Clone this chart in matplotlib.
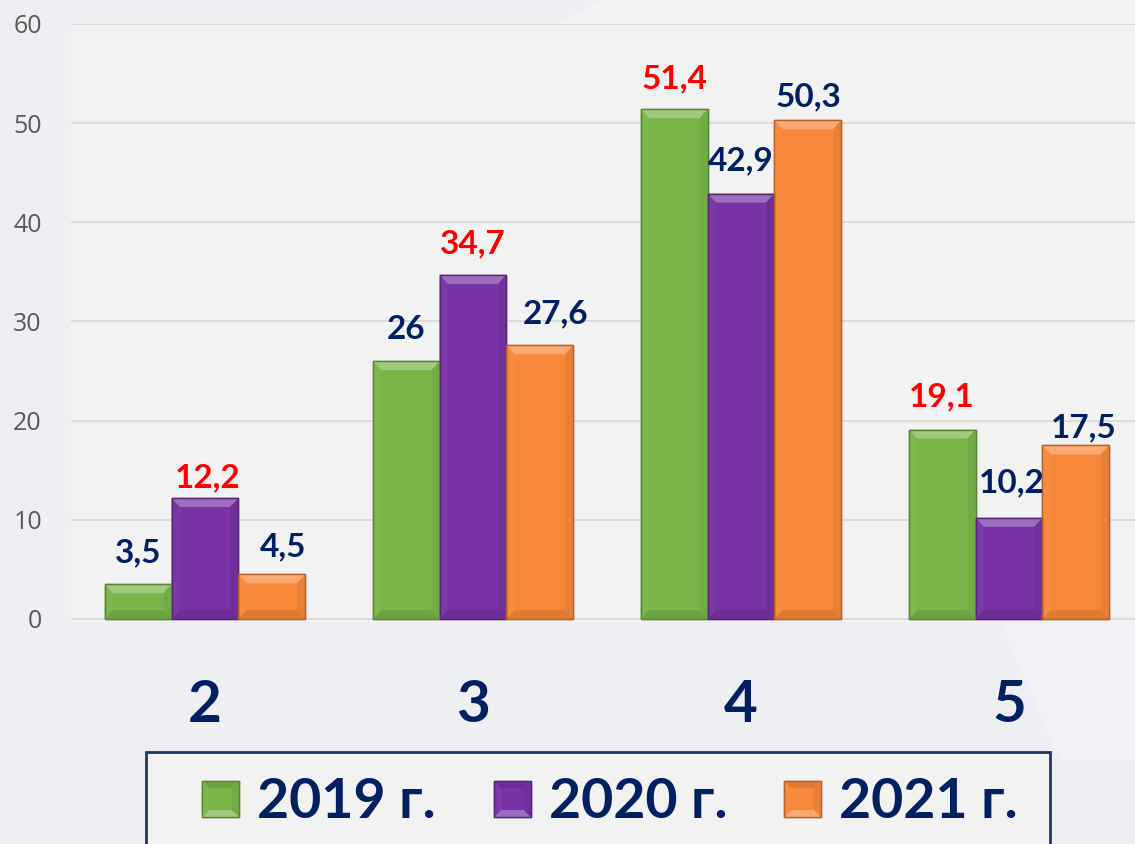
import matplotlib
matplotlib.use('Agg')
import matplotlib.pyplot as plt
import numpy as np
from matplotlib.patches import Polygon, Rectangle
from matplotlib.colors import to_rgb

# ---------------- data ----------------
categories = ['2', '3', '4', '5']
series_names = ['2019 г.', '2020 г.', '2021 г.']
values_2019 = [3.5, 26, 51.4, 19.1]
values_2020 = [12.2, 34.7, 42.9, 10.2]
values_2021 = [4.5, 27.6, 50.3, 17.5]
y_ticks = [0, 10, 20, 30, 40, 50, 60]

series_values = [values_2019, values_2020, values_2021]

# ---------------- style ----------------
W, H = 1135, 844
DPI = 100
series_colors = ['#79B64A', '#7733A5', '#F7883A']
navy = '#002060'
red = '#FF0000'
num_font = ['Lato', 'Roboto', 'DejaVu Sans']
# label nudges in pixels (dx, gap above bar)
label_nudge = {
    (0, 0): (0, 22), (0, 1): (3, 11), (0, 2): (11, 18),
    (1, 0): (0, 22), (1, 1): (0, 22), (1, 2): (16, 22),
    (2, 0): (0, 21), (2, 1): (0, 23), (2, 2): (1, 14),
    (3, 0): (0, 23), (3, 1): (3, 26), (3, 2): (8, 8),
}


def mix(c, f):
    r = np.array(to_rgb(c))
    if f >= 0:
        return tuple(r + (1 - r) * f)
    return tuple(r * (1 + f))


def bevel(ax, x0, y0, w, h, bx, by, color, z=3):
    by = min(by, h / 2.2)
    bx = min(bx, w / 2.2)
    x1, y1 = x0 + w, y0 + h
    edge = mix(color, -0.28)
    ax.add_patch(Rectangle((x0, y0), w, h, facecolor=color,
                           edgecolor=edge, lw=1.0, zorder=z))
    top = [(x0, y1), (x1, y1), (x1 - bx, y1 - by), (x0 + bx, y1 - by)]
    bot = [(x0, y0), (x1, y0), (x1 - bx, y0 + by), (x0 + bx, y0 + by)]
    lft = [(x0, y0), (x0, y1), (x0 + bx, y1 - by), (x0 + bx, y0 + by)]
    rgt = [(x1, y0), (x1, y1), (x1 - bx, y1 - by), (x1 - bx, y0 + by)]
    ax.add_patch(Polygon(top, closed=True, facecolor=mix(color, 0.28), lw=0, zorder=z + 0.1))
    ax.add_patch(Polygon(bot, closed=True, facecolor=mix(color, -0.10), lw=0, zorder=z + 0.1))
    ax.add_patch(Polygon(lft, closed=True, facecolor=mix(color, 0.03), lw=0, zorder=z + 0.1))
    ax.add_patch(Polygon(rgt, closed=True, facecolor=mix(color, -0.06), lw=0, zorder=z + 0.1))
    ax.add_patch(Rectangle((x0, y0), w, h, facecolor='none',
                           edgecolor=edge, lw=1.0, zorder=z + 0.2))


fig = plt.figure(figsize=(W / DPI, H / DPI), dpi=DPI)
fig.patch.set_facecolor('#EDEFF3')

# background overlay in pixel coords
bg = fig.add_axes([0, 0, 1, 1], zorder=-5)
bg.set_xlim(0, W)
bg.set_ylim(H, 0)
bg.axis('off')
bg.add_patch(Polygon([(600, 0), (W, 0), (W, 24), (560, 24)], closed=True,
                     facecolor='#F4F4F5', lw=0))
bg.add_patch(Polygon([(1000, 622), (W, 560), (W, 760), (1060, 760)], closed=True,
                     facecolor='#F1F2F5', lw=0))

# main axes
left_px, right_px = 71, W
top_px, bot_px = 24, 622
px_per_unit = (619 - 24) / 60.0
ax = fig.add_axes([left_px / W, (H - bot_px) / H, (right_px - left_px) / W,
                   (bot_px - top_px) / H])
ax.set_facecolor('#F2F2F2')
cat_px = 268.0
ax.set_xlim(-0.5, -0.5 + (right_px - left_px) / cat_px)
ax.set_ylim(-(bot_px - 619) / px_per_unit, 60)
for s in ax.spines.values():
    s.set_visible(False)
ax.set_yticks(y_ticks)
ax.set_yticklabels([str(t) for t in y_ticks], fontsize=18, color='#595959',
                   family=['Open Sans', 'DejaVu Sans'])
ax.tick_params(axis='y', length=0, pad=21)
ax.tick_params(axis='x', length=0, pad=41)
ax.grid(axis='y', color='#D9D9D9', lw=1.3, zorder=0)
ax.set_axisbelow(True)
x = np.arange(len(categories))
ax.set_xticks(x)
ax.set_xticklabels(categories, fontsize=42, fontweight='bold', color=navy,
                   family=num_font)

bar_w = 0.249
bx = 8 / cat_px
by = 9 / px_per_unit
for si, (vals, col) in enumerate(zip(series_values, series_colors)):
    offs = (si - 1) * bar_w
    for ci, v in enumerate(vals):
        bevel(ax, x[ci] + offs - bar_w / 2, 0, bar_w, v, bx, by, col)

# data labels
for ci in range(len(categories)):
    group = [series_values[si][ci] for si in range(3)]
    mx = max(group)
    for si in range(3):
        v = group[si]
        txt = ('%g' % v).replace('.', ',')
        dx, gap = label_nudge[(ci, si)]
        ax.annotate(txt, xy=(x[ci] + (si - 1) * bar_w, v),
                    xytext=(dx * 0.72, gap * 0.72), textcoords='offset points',
                    ha='center', va='baseline', fontsize=24, fontweight='bold',
                    color=red if v == mx else navy, family=num_font,
                    annotation_clip=False, zorder=6)

# legend (pixel coords overlay)
lg = fig.add_axes([0, 0, 1, 1], zorder=5)
lg.set_xlim(0, W)
lg.set_ylim(H, 0)
lg.axis('off')
lg.patch.set_alpha(0)
lg.add_patch(Rectangle((146, 752), 1050 - 146, 120, facecolor='#F2F2F2',
                       edgecolor='#1F3864', lw=2, zorder=1))
item_x = [202, 494, 784]
for name, col, ix in zip(series_names, series_colors, item_x):
    bevel(lg, ix, 781, 37, 36, 7, 7, col, z=2)
    lg.text(ix + 55, 818, name, fontsize=40, fontweight='bold', color=navy,
            family=num_font, ha='left', va='baseline', zorder=3)

fig.savefig('out.png', dpi=DPI, facecolor=fig.get_facecolor())
